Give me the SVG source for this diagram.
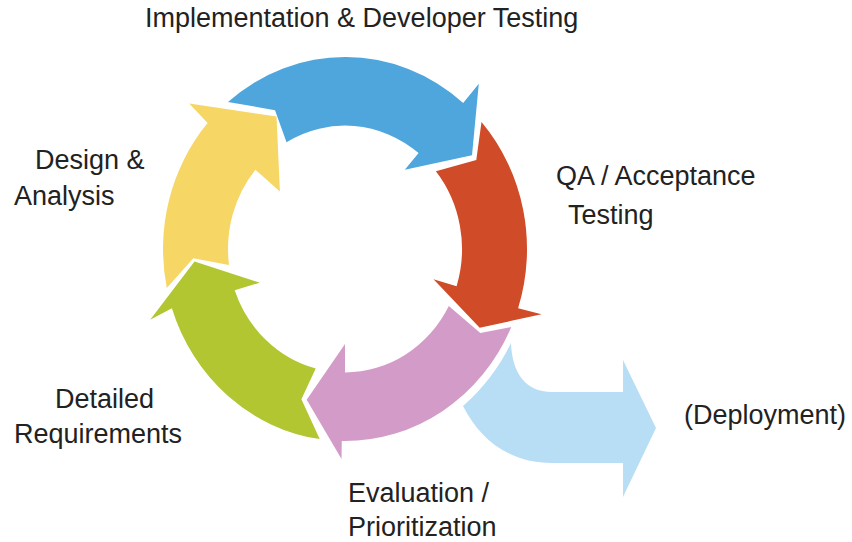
<svg xmlns="http://www.w3.org/2000/svg" width="852" height="542" viewBox="0 0 852 542">
<style>
  .lbl { font-family: "Liberation Sans", Arial, sans-serif; font-size: 27px; fill: #222222; }
  .blue { fill: #4EA6DC; }
  .red { fill: #D04B27; }
  .pink { fill: #D39CC8; }
  .green { fill: #B2C631; }
  .yellow { fill: #F6D664; }
  .lightblue { fill: #B8DEF6; }
</style>
<rect width="852" height="542" fill="#FFFFFF"/>
<g id="node-implementation">
  <path class="blue" transform="translate(345 249) scale(1 1.055)" d="M -117.0 -139.4 A 182 182 0 0 1 118.2 -138.4 L 133.8 -156.6 L 127.0 -88.9 L 59.8 -75.1 L 73.6 -90.9 A 117 117 0 0 0 -58.5 -101.3 L -69.95 -131.6 Z"/>
  <text class="lbl" x="145" y="27">Implementation &amp; Developer Testing</text>
</g>
<g id="node-qa">
  <path class="red" transform="translate(345 249) scale(1 1.055)" d="M 136.5 -120.4 A 182 182 0 0 1 173.1 56.2 L 196.5 61.9 L 134.7 74.7 L 88.5 28.7 L 111.6 35.2 A 117 117 0 0 0 90.9 -73.6 L 131.3 -84.3 Z"/>
  <text class="lbl" x="556" y="185">QA / Acceptance</text>
  <text class="lbl" x="568" y="224">Testing</text>
</g>
<g id="node-evaluation">
  <path class="pink" transform="translate(345 249) scale(1 1.055)" d="M 166.3 74.0 A 182 182 0 0 1 -3.2 182.0 L -3.5 199.0 L -38.3 143.0 L 0 90 L 0 117 A 117 117 0 0 0 103.8 54.0 L 135.3 79.7 Z"/>
  <text class="lbl" x="348" y="502">Evaluation /</text>
  <text class="lbl" x="348" y="536">Prioritization</text>
</g>
<g id="node-requirements">
  <path class="green" transform="translate(345 249) scale(1 1.055)" d="M -25.3 180.2 A 182 182 0 0 1 -173.1 56.2 L -194.8 67.1 L -150.5 11.9 L -85.2 31.9 L -110.3 39.1 A 117 117 0 0 0 -29.3 113.3 L -43.6 142.5 Z"/>
  <text class="lbl" x="55" y="408">Detailed</text>
  <text class="lbl" x="14" y="443">Requirements</text>
</g>
<g id="node-design">
  <path class="yellow" transform="translate(345 249) scale(1 1.055)" d="M -178.2 36.9 A 182 182 0 0 1 -137.4 -119.4 L -155.8 -137.8 L -68.5 -125.6 L -65.1 -54.6 L -89.6 -75.2 A 117 117 0 0 0 -116.0 15.1 L -151.7 8.8 Z"/>
  <text class="lbl" x="35" y="169">Design &amp;</text>
  <text class="lbl" x="14" y="205">Analysis</text>
</g>
<g id="node-deployment">
  <path class="lightblue" d="M 511 343 C 512 372 525 392 552 392 L 623 392 L 623 360 L 656 428 L 623 497 L 623 463 L 552 463 C 510 463 480 440 463 406 A 189 199.4 0 0 0 511 343 Z"/>
  <text class="lbl" x="684" y="424">(Deployment)</text>
</g>
<g id="connectors"></g>
</svg>
